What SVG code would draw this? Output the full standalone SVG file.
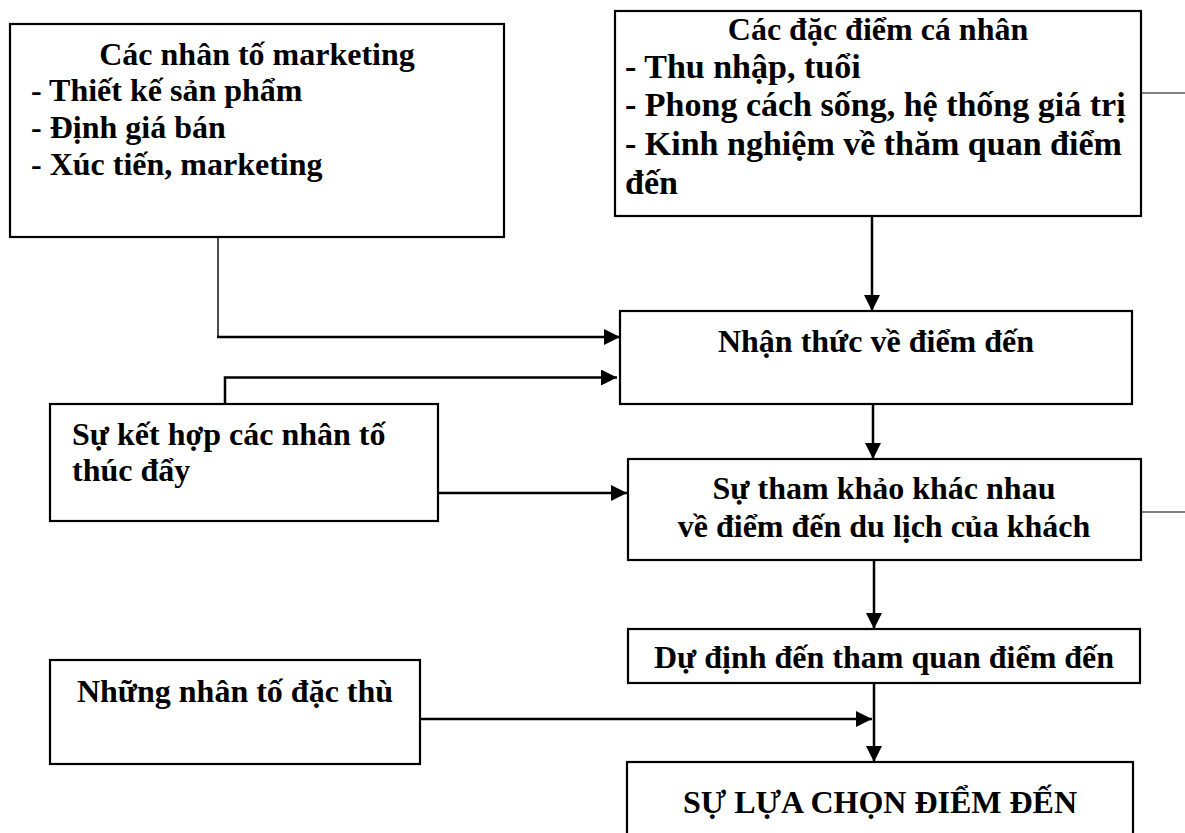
<svg xmlns="http://www.w3.org/2000/svg" width="1185" height="833" viewBox="0 0 1185 833">
  <style>
    .box { fill: #ffffff; stroke: #000000; stroke-width: 2.2; }
    .t { font-family: "Liberation Serif", "Times New Roman", "DejaVu Serif", serif; font-weight: bold; font-size: 32px; fill: #000000; }
    .lg { font-size: 34px; }
    .c { text-anchor: middle; }
    .conn { fill: none; stroke: #000000; stroke-width: 2.5; }
    .thin { fill: none; stroke: #000000; stroke-width: 1.4; }
    .side { fill: none; stroke: #555555; stroke-width: 1.4; }
  </style>
  <defs>
    <marker id="arrow" markerUnits="userSpaceOnUse" markerWidth="16" markerHeight="16" refX="16" refY="8" orient="auto">
      <path d="M0,0 L16,8 L0,16 Z" fill="#000000"/>
    </marker>
  </defs>
  <rect width="1185" height="833" fill="#ffffff"/>

  <!-- connectors -->
  <g id="connectors">
    <path class="thin" d="M218,237 V337"/>
    <path class="conn" d="M217,337 H620" marker-end="url(#arrow)"/>
    <path class="conn" d="M225,404 V377.5 H617" marker-end="url(#arrow)"/>
    <path class="conn" d="M438,493 H627" marker-end="url(#arrow)"/>
    <path class="conn" d="M872,216 V311" marker-end="url(#arrow)"/>
    <path class="conn" d="M873,404 V459" marker-end="url(#arrow)"/>
    <path class="conn" d="M874,560 V629" marker-end="url(#arrow)"/>
    <path class="conn" d="M874,683 V762" marker-end="url(#arrow)"/>
    <path class="conn" d="M420,719 H872" marker-end="url(#arrow)"/>
    <path class="side" d="M1141,93 H1185"/>
    <path class="side" d="M1141,512 H1185"/>
  </g>

  <g id="marketing-factors">
    <rect class="box" x="10" y="24" width="494" height="213"/>
    <text class="t c" x="257" y="65">Các nhân tố marketing</text>
    <text class="t" x="31" y="101">- Thiết kế sản phẩm</text>
    <text class="t" x="31" y="138">- Định giá bán</text>
    <text class="t" x="31" y="175">- Xúc tiến, marketing</text>
  </g>

  <g id="personal-traits">
    <rect class="box" x="615" y="11" width="526" height="205"/>
    <text class="t c" x="878" y="40">Các đặc điểm cá nhân</text>
    <text class="t lg" x="625" y="78">- Thu nhập, tuổi</text>
    <text class="t lg" x="625" y="116">- Phong cách sống, hệ thống giá trị</text>
    <text class="t lg" x="625" y="155">- Kinh nghiệm về thăm quan điểm</text>
    <text class="t lg" x="625" y="194">đến</text>
  </g>

  <g id="destination-awareness">
    <rect class="box" x="620" y="311" width="512" height="93"/>
    <text class="t c" x="876" y="352">Nhận thức về điểm đến</text>
  </g>

  <g id="motivating-factors">
    <rect class="box" x="50" y="404" width="388" height="117"/>
    <text class="t" x="72" y="445">Sự kết hợp các nhân tố</text>
    <text class="t" x="72" y="481">thúc đẩy</text>
  </g>

  <g id="destination-references">
    <rect class="box" x="628" y="459" width="513" height="101"/>
    <text class="t c" x="884" y="499">Sự tham khảo khác nhau</text>
    <text class="t c" x="884" y="537">về điểm đến du lịch của khách</text>
  </g>

  <g id="visit-intention">
    <rect class="box" x="628" y="629" width="512" height="54"/>
    <text class="t c" x="884" y="668">Dự định đến tham quan điểm đến</text>
  </g>

  <g id="specific-factors">
    <rect class="box" x="50" y="660" width="370" height="104"/>
    <text class="t c" x="235" y="702">Những nhân tố đặc thù</text>
  </g>

  <g id="destination-choice">
    <rect class="box" x="627" y="762" width="506" height="90"/>
    <text class="t c" x="880" y="813">SỰ LỰA CHỌN ĐIỂM ĐẾN</text>
  </g>
</svg>
